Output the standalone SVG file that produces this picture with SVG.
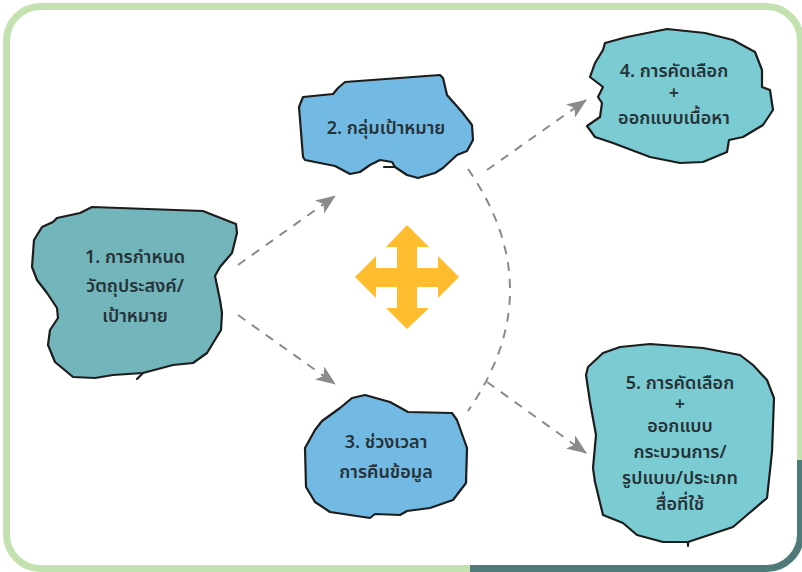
<svg xmlns="http://www.w3.org/2000/svg" width="802" height="572" viewBox="0 0 802 572">
<style>
.blob{stroke:#1d1d1d;stroke-width:2.2;stroke-linejoin:round;stroke-linecap:round}
.tail{fill:none;stroke:#1d1d1d;stroke-width:2.2;stroke-linecap:round}
.t{font-family:"Noto Sans Thai","Noto Sans","Liberation Sans",sans-serif;font-size:18px;font-weight:600;fill:#263238;text-anchor:middle}
.c{fill:none;stroke:#8a8a8a;stroke-width:2;stroke-dasharray:9 8}
</style>
<defs>
<marker id="ah" viewBox="0 0 20 16" refX="19" refY="8" markerWidth="20" markerHeight="16" markerUnits="userSpaceOnUse" orient="auto"><path d="M20 8L0 0L5 8L0 16Z" fill="#8a8a8a"/></marker>
<clipPath id="dk"><path d="M470 572V540H700V460H802V572Z"/></clipPath>
</defs>
<g id="frame">
<rect x="6.5" y="6.5" width="794" height="562" rx="34" fill="#fff" stroke="#c4e2b0" stroke-width="7"/>
<rect x="6.5" y="6.5" width="794" height="562" rx="34" fill="none" stroke="#4f7a78" stroke-width="7" clip-path="url(#dk)"/>
</g>
<g id="connectors">
<path class="c" marker-end="url(#ah)" d="M238 265L335 196"/>
<path class="c" marker-end="url(#ah)" d="M238 315L335 384"/>
<path class="c" marker-end="url(#ah)" d="M487 170L586 100"/>
<path class="c" marker-end="url(#ah)" d="M487 382L586 453"/>
<path class="c" d="M468 169Q552 290 468 411"/>
</g>
<g id="cross"><path fill="#fdbd2f" d="M407 225L429 247H417V268H438V256L459 277L438 298V287H417V308H429L407 329L386 308H397V287H376V298L355 277L376 256V268H397V247H386Z"/></g>
<g id="node1">
<path class="blob" fill="#72b5bb" d="M92 207L203 211L213 215L236 224L237 233L232 253L220 267L215 276L220 300L222 313L221 330L207 353L193 363L173 365L143 373L113 375L95 378L73 377L55 362L48 345L50 330L58 318L57 308L47 293L37 280L32 267L34 240L42 227L53 222L57 218L80 213Z"/>
<path class="tail" d="M143 373L137 379"/>
<text class="t" x="135" y="263">1. การกำหนด</text><text class="t" x="135" y="292">วัตถุประสงค์/</text><text class="t" x="135" y="322">เป้าหมาย</text>
</g>
<g id="node2">
<path class="blob" fill="#72bae3" d="M345 82L440 75L443 78L447 95L462 112L472 125L473 140L467 151L457 155L443 168L435 173L418 178L407 175L395 167L392 162L380 160L370 165L360 172L350 174L335 166L305 160L303 157L299 107L303 97L333 94L338 88Z"/>
<path class="tail" d="M395 167L384 167"/>
<text class="t" x="386" y="134">2. กลุ่มเป้าหมาย</text>
</g>
<g id="node3">
<path class="blob" fill="#72bae3" d="M365 395L390 402L408 412L452 413L457 420L467 448L466 483L453 500L430 508L407 511L400 515L375 514L370 518L330 512L315 502L306 487L305 448L315 430L322 421L340 408L352 398Z"/>
<text class="t" x="386" y="448">3. ช่วงเวลา</text><text class="t" x="386" y="478">การคืนข้อมูล</text>
</g>
<g id="node4">
<path class="blob" fill="#7accd2" d="M605 43L627 37L667 29L705 33L733 40L755 52L762 70L762 87L770 90L773 110L763 125L743 137L729 140L727 152L703 162L680 163L650 157L613 143L595 137L587 126L600 117L602 103L598 97L603 87L590 77L595 63L603 50Z"/>
<text class="t" x="674" y="77">4. การคัดเลือก</text><text class="t" x="674" y="99">+</text><text class="t" x="674" y="124">ออกแบบเนื้อหา</text>
</g>
<g id="node5">
<path class="blob" fill="#7accd2" d="M620 347L650 344L703 348L740 355L753 365L767 380L774 398L772 452L767 498L747 515L733 527L700 538L688 542L663 542L637 535L623 523L603 515L595 482L593 468L596 435L590 402L586 375L588 367L603 353Z"/>
<path class="tail" d="M688 542V546"/>
<text class="t" x="680" y="389">5. การคัดเลือก</text><text class="t" x="680" y="410">+</text><text class="t" x="680" y="432">ออกแบบ</text><text class="t" x="680" y="458">กระบวนการ/</text><text class="t" x="680" y="484">รูปแบบ/ประเภท</text><text class="t" x="680" y="510">สื่อที่ใช้</text>
</g>
</svg>
